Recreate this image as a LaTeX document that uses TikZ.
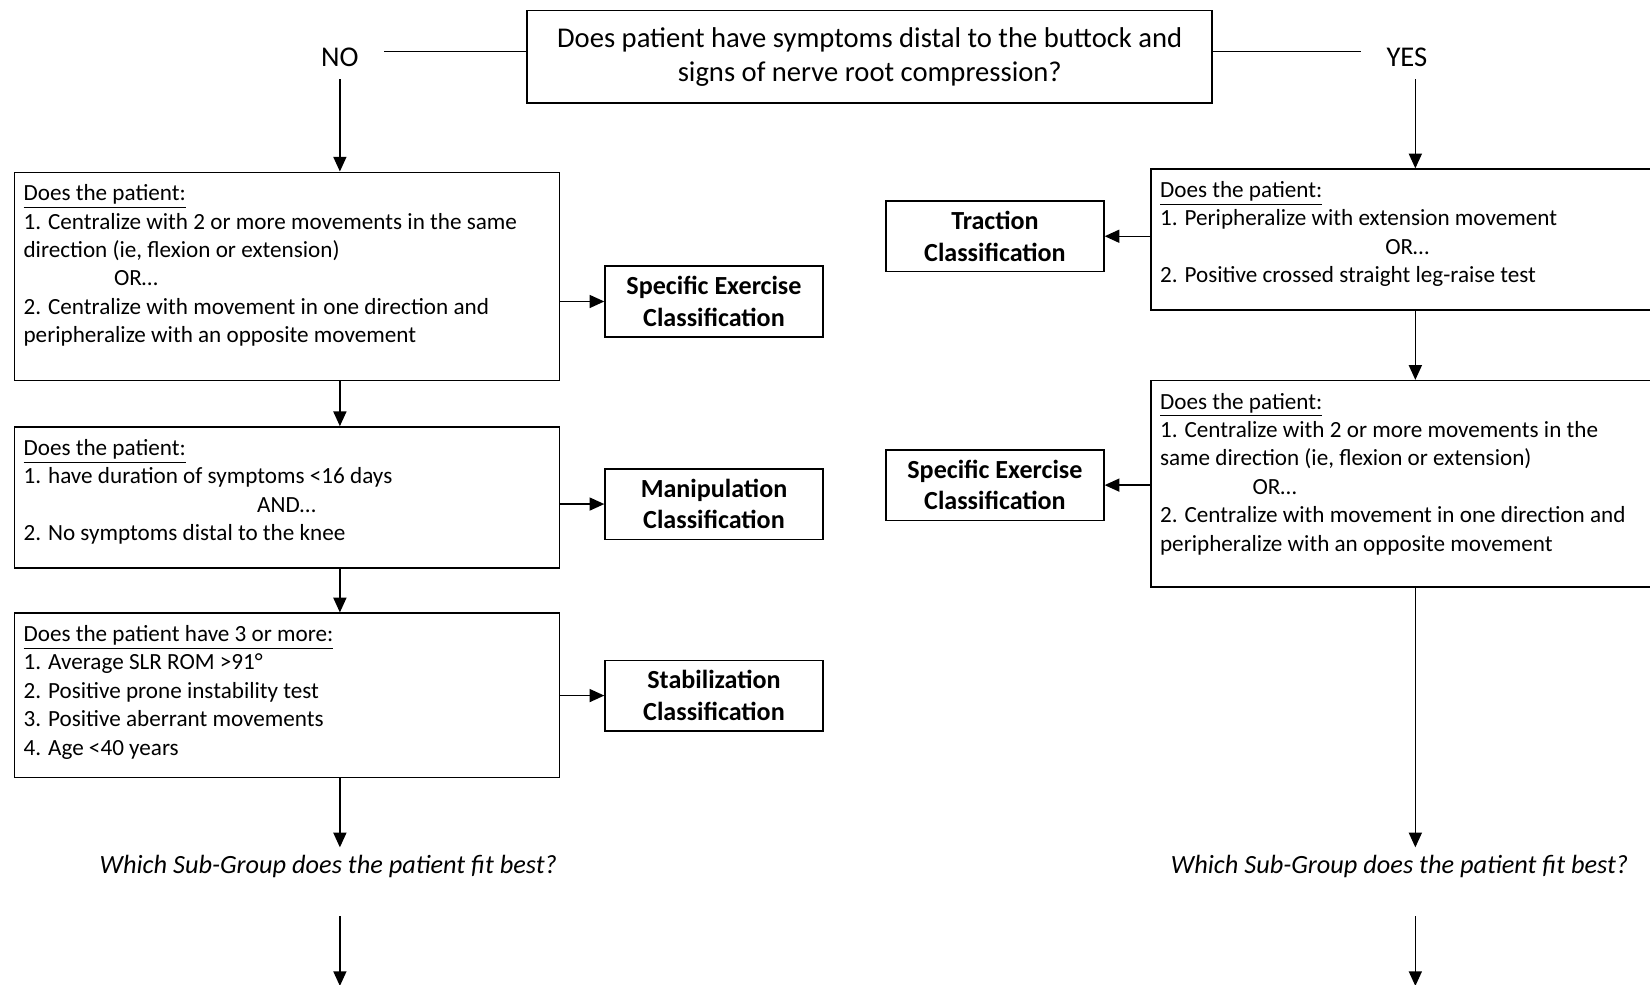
\documentclass[tikz,border=0pt]{standalone}
\usepackage{fontspec}
\setmainfont{Carlito}
\usetikzlibrary{arrows.meta,positioning}
\tikzset{
	qbox/.style={
		rectangle,
		line width=0.75pt,
		draw=black,
		anchor=north west,
		inner sep=0pt
	},
	qtext/.style={
		anchor=north west,
		align=left,
		inner xsep=4.5pt,
		inner ysep=6pt,
		font=\fontsize{11}{13.5}\selectfont
	},
	classbox/.style={
		rectangle,
		line width=0.75pt,
		draw=black,
		minimum width=103.5pt,
		minimum height=33.5pt,
		align=center,
		font=\bfseries\fontsize{12.4}{15}\selectfont
	},
	topbox/.style={
		rectangle,
		line width=0.75pt,
		draw=black,
		minimum width=325.5pt,
		minimum height=44pt,
		align=center,
		font=\fontsize{13.6}{16}\selectfont
	},
	answer/.style={
		font=\fontsize{13.6}{16}\selectfont,
		inner xsep=12pt,
		inner ysep=6pt
	},
	ask/.style={
		font=\itshape\fontsize{12.5}{15}\selectfont
	},
	arrow/.style={
		draw=black,
		line width=0.7pt,
		->,
		>={Triangle[length=7pt,width=6.2pt]}
	},
	link/.style={
		draw=black,
		line width=0.7pt
	},
}

\begin{document}
\begin{tikzpicture}[x=0.5pt,y=-0.5pt]
		\useasboundingbox (0,0) rectangle (1568,936);
		\coordinate (lcol) at (323,0);
		\coordinate (rcol) at (1345,0);
		% question at the top
		\node (top) [topbox] at (826.5,54) {Does patient have symptoms distal to the buttock and\\signs of nerve root compression?};
		\node (no) [answer] at (323,54) {NO};
		\node (yes) [answer] at (1337,54) {YES};
		\draw [link] ([yshift=2.5pt]top.west) -- ([yshift=2.5pt]no.east);
		\draw [link] ([yshift=2.5pt]top.east) -- ([yshift=2.5pt]yes.west);
		% NO branch
		\node (l1) [qbox, minimum width=259pt, minimum height=99pt] at (13,163) {};
		\node (l1t) [qtext] at (l1.north west) {\underline{Does the patient:}\\1. Centralize with 2 or more movements in the same\\direction (ie, flexion or extension)\\\hspace*{43pt}OR…\\2. Centralize with movement in one direction and\\peripheralize with an opposite movement};
		\node (l2) [qbox, minimum width=259pt, minimum height=67pt] at (13,405) {};
		\node (l2t) [qtext] at (l2.north west) {\underline{Does the patient:}\\1. have duration of symptoms <16 days\\\hspace*{111pt}AND…\\2. No symptoms distal to the knee};
		\node (l3) [qbox, minimum width=259pt, minimum height=78pt] at (13,582) {};
		\node (l3t) [qtext] at (l3.north west) {\underline{Does the patient have 3 or more:}\\1. Average SLR ROM >91°\\2. Positive prone instability test\\3. Positive aberrant movements\\4. Age <40 years};
		\node (lse) [classbox] at (678.5,286.5) {Specific Exercise\\Classification};
		\node (lman) [classbox] at (678.5,479) {Manipulation\\Classification};
		\node (lstab) [classbox] at (678.5,661) {Stabilization\\Classification};
		\node (lask) [ask] at (312,823) {Which Sub-Group does the patient fit best?};
		\coordinate (lend) at (323,937);
		\draw [arrow] (no.south) -- (no.south |- l1.north);
		\draw [arrow] (l1.south -| lcol) -- (l2.north -| lcol);
		\draw [arrow] (l2.south -| lcol) -- (l3.north -| lcol);
		\draw [arrow] (l3.south -| lcol) -- (lask.north -| lcol);
		\draw [arrow, shorten <=15pt] (lask.south -| lcol) -- (lend);
		\draw [arrow] (l1.east |- lse) -- (lse);
		\draw [arrow] (l2.east |- lman) -- (lman);
		\draw [arrow] (l3.east |- lstab) -- (lstab);
		% YES branch
		\node (r1) [qbox, minimum width=260pt, minimum height=67pt] at (1093,160) {};
		\node (r1t) [qtext] at (r1.north west) {\underline{Does the patient:}\\1. Peripheralize with extension movement\\\hspace*{107pt}OR…\\2. Positive crossed straight leg-raise test};
		\node (r2) [qbox, minimum width=260pt, minimum height=98pt] at (1093,361) {};
		\node (r2t) [qtext] at (r2.north west) {\underline{Does the patient:}\\1. Centralize with 2 or more movements in the\\same direction (ie, flexion or extension)\\\hspace*{44pt}OR…\\2. Centralize with movement in one direction and\\peripheralize with an opposite movement};
		\node (rtr) [classbox] at (945.5,224.5) {Traction\\Classification};
		\node (rse) [classbox] at (945.5,461) {Specific Exercise\\Classification};
		\node (rask) [ask] at (1330,823) {Which Sub-Group does the patient fit best?};
		\coordinate (rend) at (1345,937);
		\draw [arrow] (yes.south -| rcol) -- (r1.north -| rcol);
		\draw [arrow] (r1.south -| rcol) -- (r2.north -| rcol);
		\draw [arrow] (r2.south -| rcol) -- (rask.north -| rcol);
		\draw [arrow, shorten <=15pt] (rask.south -| rcol) -- (rend);
		\draw [arrow] (r1.west |- rtr) -- (rtr);
		\draw [arrow] (r2.west |- rse) -- (rse);
		\end{tikzpicture}
\end{document}
